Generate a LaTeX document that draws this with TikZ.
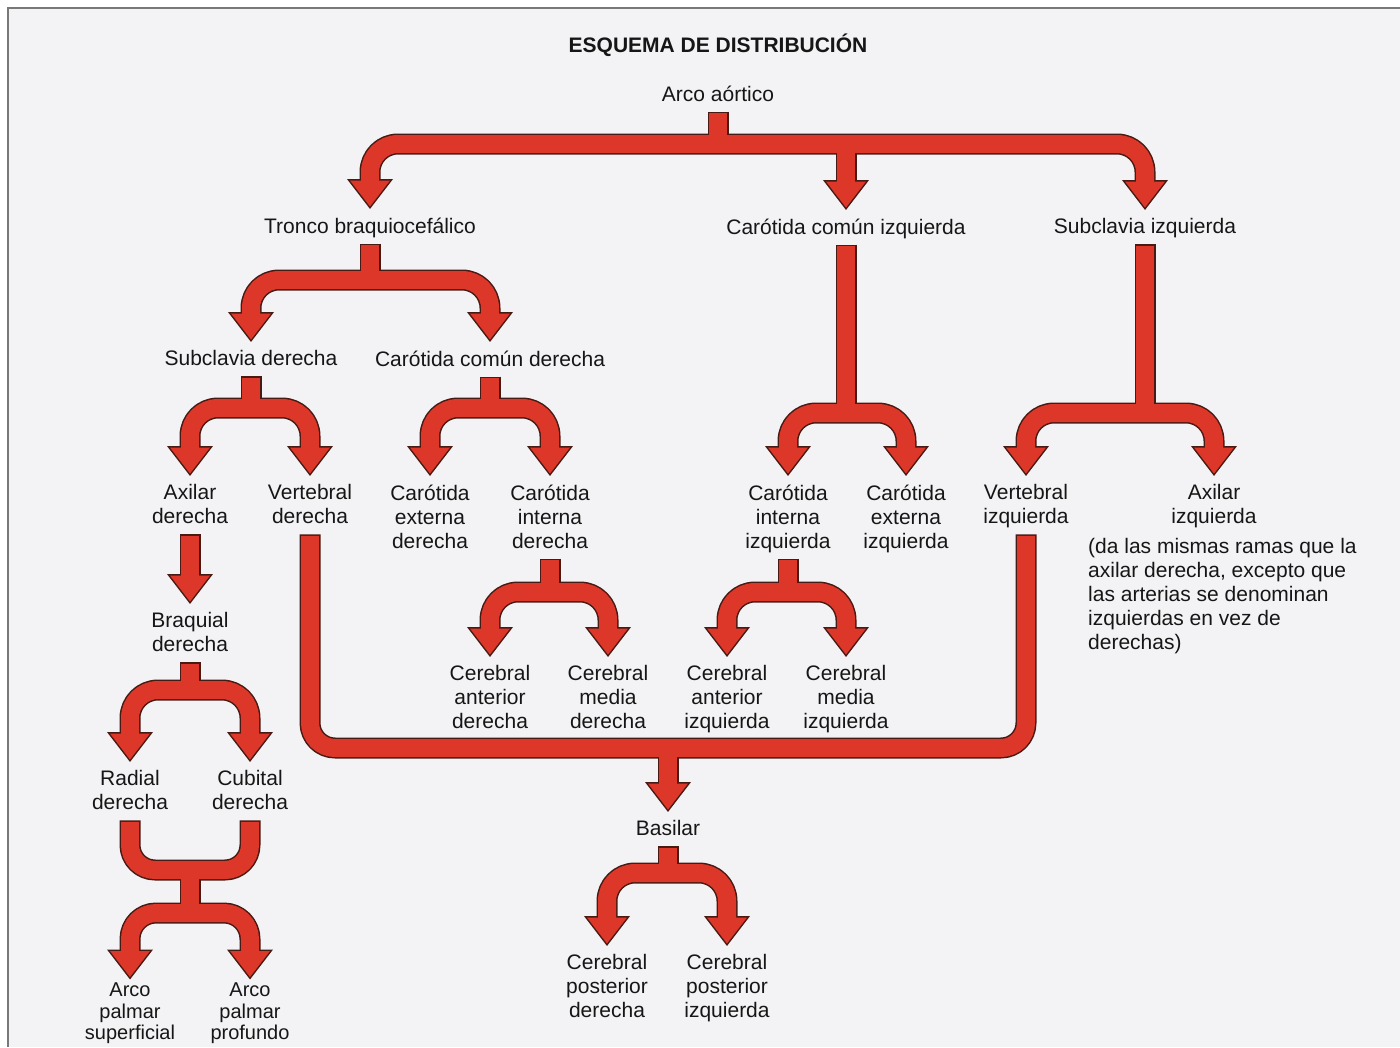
\documentclass[tikz,border=0pt]{standalone}
\usepackage{fontspec}
\setmainfont{Liberation Sans}
\usetikzlibrary{calc}
\definecolor{arrred}{RGB}{221,55,42}
\definecolor{arrline}{RGB}{72,26,20}
\definecolor{paper}{RGB}{243,243,245}
\definecolor{ink}{RGB}{22,22,22}
\definecolor{framecol}{RGB}{120,120,120}

\newcommand\arrhead[1]{\path[head] ($(#1)+(-20,-26)$) -- ($(#1)+(20,-26)$) -- (#1) -- cycle;}
\newcommand\forkto[4]{%
  \draw[band,rounded corners=28pt] ($(#3T)+(0,-24)$) -- (#3T|-0,#2) -- (#4T|-0,#2) -- ($(#4T)+(0,-24)$);
  \draw[stem] (#1S) -- (#1S|-0,#2);
  \arrhead{#3T}\arrhead{#4T}}
\newcommand\connectors{%
  \forkto{arco}{144}{tronco}{sci}
  \draw[band] (cciT|-0,144) -- ($(cciT)+(0,-24)$); \arrhead{cciT}
  \forkto{tronco}{280}{subder}{ccd}
  \forkto{subder}{408}{axder}{vertder}
  \forkto{ccd}{408}{ced}{cid}
  \forkto{cci}{413}{cii}{cei}
  \forkto{sci}{413}{vertizq}{axizq}
  \draw[stem] (axderS) -- ($(braqT)+(0,-24)$); \arrhead{braqT}
  \forkto{cid}{592}{cad}{cmd}
  \forkto{cii}{592}{cai}{cmi}
  \forkto{braq}{690}{radial}{cubital}
  \draw[uband,rounded corners=25pt] (vertderS) -- (vertderS|-0,748) -- (vertizqS|-0,748) -- (vertizqS);
  \draw[band] (basilarT|-0,748) -- ($(basilarT)+(0,-24)$); \arrhead{basilarT}
  \forkto{basilar}{873}{cpd}{cpi}
  \draw[uband,rounded corners=25pt] (radialS) -- (radialS|-0,870) -- (cubitalS|-0,870) -- (cubitalS);
  \draw[band] (braq|-0,870) -- (braq|-0,913);
  \draw[band,rounded corners=26pt] ($(apsupT)+(0,-24)$) -- (apsupT|-0,913) -- (approfT|-0,913) -- ($(approfT)+(0,-24)$);
  \arrhead{apsupT}\arrhead{approfT}%
}

\begin{document}
\begin{tikzpicture}[x=1pt,y=-1pt,
  lbl/.style={anchor=north,inner sep=0pt,align=center,text=ink,
    font=\fontsize{21}{24}\selectfont,execute at end node={\vphantom{gq}}}]
\useasboundingbox (0,0) rectangle (1400,1047);
\clip (0,0) rectangle (1400,1047);
\fill[white] (0,0) rectangle (1400,1047);
\fill[paper] (8,8) rectangle (1400,1047);
\draw[framecol,line width=1.5pt] (8,1047) -- (8,8) -- (1400,8);

% labels
\node[lbl,anchor=base,font=\fontsize{21}{24}\selectfont\bfseries] (title) at (718,52.5) {ESQUEMA DE DISTRIBUCIÓN};
\node[lbl] (arco) at (718,85.5) {Arco aórtico};
\node[lbl] (tronco) at (370,217.5) {Tronco braquiocefálico};
\node[lbl] (cci) at (846,218.5) {Carótida común izquierda};
\node[lbl] (sci) at (1145,218.5) {Subclavia izquierda};
\node[lbl] (subder) at (251,350.5) {Subclavia derecha};
\node[lbl] (ccd) at (490,350.5) {Carótida común derecha};
\node[lbl] (axder) at (190,484.5) {Axilar\\derecha};
\node[lbl] (vertder) at (310,484.5) {Vertebral\\derecha};
\node[lbl] (ced) at (430,484.5) {Carótida\\externa\\derecha};
\node[lbl] (cid) at (550,484.5) {Carótida\\interna\\derecha};
\node[lbl] (cii) at (788,484.5) {Carótida\\interna\\izquierda};
\node[lbl] (cei) at (906,484.5) {Carótida\\externa\\izquierda};
\node[lbl] (vertizq) at (1026,484.5) {Vertebral\\izquierda};
\node[lbl] (axizq) at (1214,484.5) {Axilar\\izquierda};
\node[lbl,anchor=north west,align=left] (nota) at (1088,538.5) {(da las mismas ramas que la\\axilar derecha, excepto que\\las arterias se denominan\\izquierdas en vez de\\derechas)};
\node[lbl] (braq) at (190,612.5) {Braquial\\derecha};
\node[lbl] (cad) at (490,665.5) {Cerebral\\anterior\\derecha};
\node[lbl] (cmd) at (608,665.5) {Cerebral\\media\\derecha};
\node[lbl] (cai) at (727,665.5) {Cerebral\\anterior\\izquierda};
\node[lbl] (cmi) at (846,665.5) {Cerebral\\media\\izquierda};
\node[lbl] (radial) at (130,770.5) {Radial\\derecha};
\node[lbl] (cubital) at (250,770.5) {Cubital\\derecha};
\node[lbl] (basilar) at (668,820.5) {Basilar};
\node[lbl] (cpd) at (607,954.5) {Cerebral\\posterior\\derecha};
\node[lbl] (cpi) at (727,954.5) {Cerebral\\posterior\\izquierda};
\node[lbl,font=\fontsize{20}{21.5}\selectfont] (apsup) at (130,983) {Arco\\palmar\\superficial};
\node[lbl,font=\fontsize{20}{21.5}\selectfont] (approf) at (250,983) {Arco\\palmar\\profundo};

% connector ports
\foreach \n in {arco,tronco,cci,sci,subder,ccd,axder,vertder,cid,cii,vertizq,braq,radial,cubital,basilar}
  \coordinate (\n S) at ($(\n.south)+(0,6)$);
\foreach \n in {tronco,cci,sci,subder,ccd,axder,vertder,ced,cid,cii,cei,vertizq,axizq,braq,cad,cmd,cai,cmi,radial,cubital,basilar,cpd,cpi}
  \coordinate (\n T) at ($(\n.north)+(0,-11)$);
\foreach \n in {apsup,approf}
  \coordinate (\n T) at ($(\n.north)+(0,-6)$);

% outline pass
\begin{scope}[band/.style={draw=arrline,line width=21pt,line join=round},
  stem/.style={band}, uband/.style={band},
  head/.style={fill=arrline,draw=arrline,line width=3pt,line join=miter}]
  \connectors
\end{scope}
% colour pass
\begin{scope}[band/.style={draw=arrred,line width=18pt,line join=round},
  stem/.style={band,shorten <=1.5pt}, uband/.style={band,shorten <=1.5pt,shorten >=1.5pt},
  head/.style={fill=arrred}]
  \connectors
\end{scope}
\end{tikzpicture}
\end{document}
